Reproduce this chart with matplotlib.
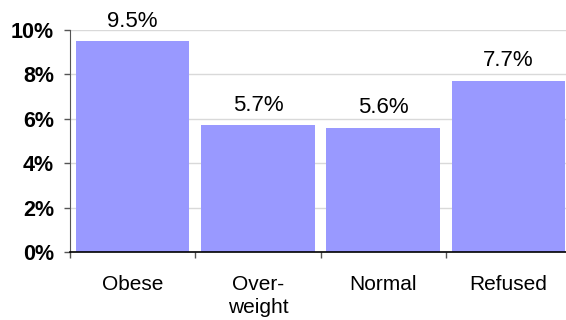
import matplotlib
matplotlib.use("Agg")
import matplotlib.pyplot as plt
from matplotlib.ticker import FixedLocator

categories = ["Obese", "Over-\nweight", "Normal", "Refused"]
values = [9.5, 5.7, 5.6, 7.7]
value_labels = ["9.5%", "5.7%", "5.6%", "7.7%"]
yticks = [0, 2, 4, 6, 8, 10]
ytick_labels = ["0%", "2%", "4%", "6%", "8%", "10%"]

plt.rcParams['font.family'] = ['Liberation Sans', 'DejaVu Sans']

fig = plt.figure(figsize=(5.66, 3.2), dpi=100)
ax = fig.add_axes([70/566, 68/320, 501/566, 222/320])

x = list(range(len(categories)))
ax.bar(x, values, width=0.905, color="#9999FF", zorder=3)
ax.set_xlim(-0.5, len(categories) - 0.5)
ax.set_ylim(0, 10)

ax.set_yticks(yticks)
ax.set_yticklabels(ytick_labels, fontsize=15.5, fontweight='bold')
ax.yaxis.grid(True, color="#d9d9d9", linewidth=1, zorder=0)
ax.tick_params(axis='y', direction='out', length=4.5, width=1, color="#555555", pad=7)

ax.set_xticks(x)
ax.set_xticklabels(categories, fontsize=15, linespacing=1.3)
ax.tick_params(axis='x', which='major', length=0, pad=16.5)
ax.xaxis.set_minor_locator(FixedLocator([i - 0.5 for i in range(len(categories) + 1)]))
ax.tick_params(axis='x', which='minor', direction='out', length=4.5, width=1, color="#555555")

for s in ['top', 'right']:
    ax.spines[s].set_visible(False)
ax.spines['left'].set_color("#555555")
ax.spines['bottom'].set_color("black")
ax.spines['bottom'].set_linewidth(1.2)
ax.spines['bottom'].set_zorder(4)

for xi, v, lab in zip(x, values, value_labels):
    ax.annotate(lab, (xi, v), xytext=(0, 10.5), textcoords='offset points',
                ha='center', va='baseline', fontsize=16)

fig.savefig("out.png", dpi=100)
